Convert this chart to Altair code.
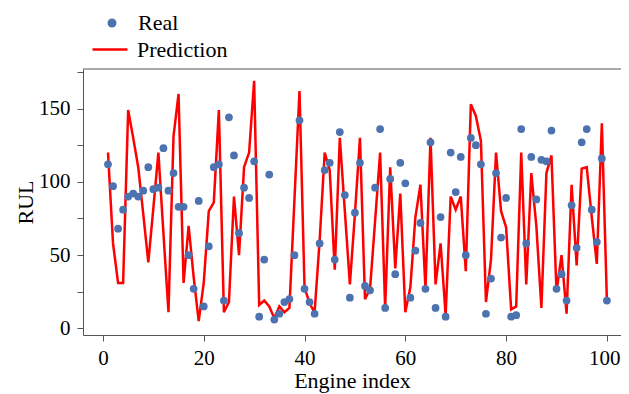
import altair as alt
import pandas as pd

engine = list(range(1, 101))

real = [112, 97, 68, 81, 90, 92, 90, 94, 110, 95,
        96, 123, 94, 106, 83, 83, 50, 27, 87, 15,
        56, 110, 112, 19, 144, 118, 65, 96, 89, 114,
        8, 47, 105, 6, 10, 18, 20, 50, 142, 27,
        18, 10, 58, 108, 113, 47, 134, 91, 21, 79,
        113, 29, 26, 96, 136, 14, 102, 37, 113, 99,
        21, 53, 72, 27, 127, 14, 76, 8, 120, 93,
        117, 50, 130, 125, 112, 10, 34, 106, 62, 89,
        8, 9, 136, 58, 117, 88, 115, 114, 135, 27,
        37, 19, 84, 55, 127, 136, 81, 59, 116, 19]

pred = [120, 58, 31, 31, 149, 130, 110, 78, 45, 82,
        120, 65, 11, 131, 160, 31, 70, 35, 5, 31,
        80, 86, 149, 11, 18, 90, 50, 110, 120, 169,
        16, 19, 15, 7, 15, 11, 14, 88, 162, 28,
        17, 11, 60, 120, 108, 40, 130, 80, 30, 78,
        130, 20, 27, 73, 120, 14, 110, 41, 92, 11,
        28, 76, 98, 27, 130, 30, 58, 9, 90, 81,
        90, 39, 153, 145, 128, 18, 47, 120, 80, 69,
        13, 15, 120, 30, 106, 70, 14, 106, 118, 25,
        50, 10, 98, 43, 109, 110, 76, 44, 140, 19]

x_ticks = [0, 20, 40, 60, 80, 100]
y_ticks = [0, 25, 50, 75, 100, 125, 150, 175]

df_real = pd.DataFrame({"Engine": engine, "RUL": real, "Series": ["Real"] * len(engine)})
df_pred = pd.DataFrame({"Engine": engine, "RUL": pred, "Series": ["Prediction"] * len(engine)})

W, H = 538, 266
FONT = "Liberation Serif"
AX = "#555555"

xscale = alt.Scale(domain=[-3.96, 102.8], nice=False, zero=False)
yscale = alt.Scale(domain=[-4.5, 177], nice=False, zero=False)

x_enc = alt.X("Engine:Q", scale=xscale,
              axis=alt.Axis(values=x_ticks, title="Engine index", grid=False,
                            labelFont=FONT, labelFontSize=21, labelColor="black",
                            labelPadding=6, tickSize=6, tickColor=AX, domainColor=AX,
                            titleFont=FONT, titleFontSize=22, titleFontWeight="normal",
                            titleColor="black", titleBaseline="alphabetic",
                            titleX=269, titleY=52, labelFlush=15, labelFlushOffset=13))
y_enc = alt.Y("RUL:Q", scale=yscale,
              axis=alt.Axis(values=y_ticks, title="RUL", grid=False,
                            labelExpr="datum.value % 50 === 0 ? datum.label : ''",
                            labelFont=FONT, labelFontSize=21, labelColor="black",
                            labelPadding=7, tickSize=6, tickColor=AX, domainColor=AX,
                            titleFont=FONT, titleFontSize=22, titleFontWeight="normal",
                            titleColor="black", titleBaseline="alphabetic",
                            titleX=-51, titleY=H / 2, labelFlush=False))

points = alt.Chart(df_real).mark_point(filled=True, size=60, opacity=1).encode(
    x=x_enc, y=y_enc,
    fill=alt.Fill("Series:N", scale=alt.Scale(domain=["Real"], range=["#4C72B0"]),
                  legend=alt.Legend(title=None, orient="none", legendX=18, legendY=-57,
                                    symbolType="circle", symbolSize=80, symbolStrokeWidth=0,
                                    labelFont=FONT, labelFontSize=22, labelColor="black",
                                    labelOffset=15, padding=0)),
)

line = alt.Chart(df_pred).mark_line(strokeWidth=2.5).encode(
    x=x_enc, y=y_enc,
    stroke=alt.Stroke("Series:N", scale=alt.Scale(domain=["Prediction"], range=["#FF0000"]),
                      legend=alt.Legend(title=None, orient="none", legendX=8, legendY=-38.5,
                                        symbolType="stroke", symbolSize=1225,
                                        symbolStrokeWidth=2.5,
                                        labelFont=FONT, labelFontSize=22, labelColor="black",
                                        labelOffset=8, padding=0)),
)

top_spine = alt.Chart(pd.DataFrame({"k": [0]})).mark_rule(color=AX, strokeWidth=1).encode(
    x=alt.value(0), x2=alt.value(W), y=alt.value(0)
)

chart = alt.layer(line, points, top_spine).properties(
    width=W, height=H,
    padding={"left": 75, "top": 61, "right": 0, "bottom": 59},
    autosize=alt.AutoSizeParams(type="none"),
).configure_view(strokeWidth=0)

chart.save("out.html", embed_options={"renderer": "svg", "actions": False})
